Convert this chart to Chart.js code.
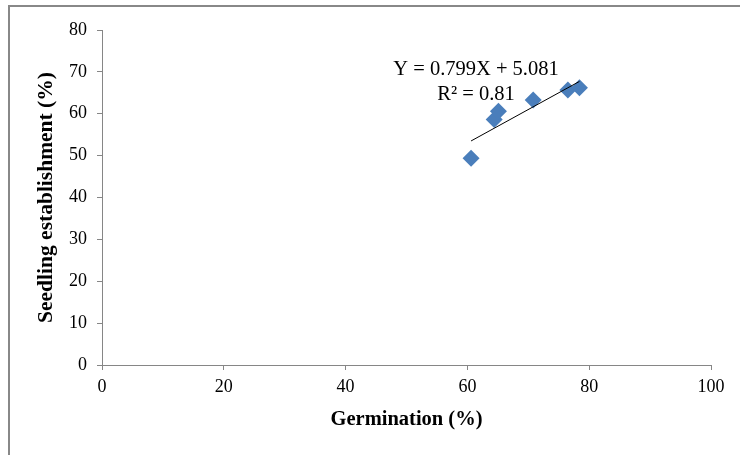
<!DOCTYPE html>
<html>
<head>
<meta charset="utf-8">
<script src="https://cdn.jsdelivr.net/npm/chart.js@4/dist/chart.umd.min.js"></script>
<style>
    body { margin: 0; background: #fff; }
    #wrap { position: relative; width: 740px; height: 455px; overflow: hidden; }
    #frame {
        position: absolute; left: 8px; top: 5px; width: 760px; height: 470px;
        border-top: 2px solid #888; border-left: 2px solid #888;
        pointer-events: none;
    }
    canvas { position: absolute; left: 0; top: 0; }
</style>
</head>
<body>
<div id="wrap">
    <canvas id="chart" width="740" height="455"></canvas>
    <div id="frame"></div>
</div>
<script>
const germination = [60.6, 64.4, 65.1, 70.8, 76.5, 78.4];
const establishment = [49.4, 58.6, 60.6, 63.3, 65.7, 66.2];
const xTicks = [0, 20, 40, 60, 80, 100];
const yTicks = [0, 10, 20, 30, 40, 50, 60, 70, 80];
const slope = 0.799;
const intercept = 5.081;
const equationText = 'Y = 0.799X + 5.081';
const r2Text = 'R² = 0.81';

const axisGrey = '#868686';
const serif = '"Liberation Serif", "Times New Roman", serif';

const points = germination.map((x, i) => ({ x: x, y: establishment[i] }));
const xMin = Math.min(...germination);
const xMax = Math.max(...germination);
const trend = [
    { x: xMin, y: slope * xMin + intercept },
    { x: xMax, y: slope * xMax + intercept }
];

// equation label, placed like the excel trendline label
const equationLabel = {
    id: 'equationLabel',
    afterDatasetsDraw(chart) {
        const ctx = chart.ctx;
        ctx.save();
        ctx.fillStyle = '#000';
        ctx.font = '20.5px ' + serif;
        ctx.textAlign = 'center';
        ctx.textBaseline = 'middle';
        ctx.fillText(equationText, 476, 70);
        ctx.fillText(r2Text, 476, 95);
        ctx.restore();
    }
};

new Chart(document.getElementById('chart'), {
    type: 'scatter',
    data: {
        datasets: [
            {
                type: 'line',
                label: 'Trend',
                data: trend,
                borderColor: '#000',
                borderWidth: 1,
                pointRadius: 0,
                fill: false
            },
            {
                label: 'Seedling establishment',
                data: points,
                pointStyle: 'rectRot',
                pointRadius: 8.5,
                pointHoverRadius: 8.5,
                backgroundColor: '#4a7ebb',
                borderColor: '#4a7ebb',
                borderWidth: 0
            }
        ]
    },
    options: {
        responsive: false,
        animation: false,
        layout: { padding: { top: 30, right: 29, left: 0, bottom: 0 } },
        plugins: {
            legend: { display: false },
            tooltip: { enabled: false }
        },
        scales: {
            x: {
                type: 'linear',
                min: 0,
                max: 100,
                afterBuildTicks: scale => { scale.ticks = xTicks.map(v => ({ value: v })); },
                afterFit: scale => { scale.height = 90; },
                border: { color: axisGrey, width: 1 },
                grid: { drawOnChartArea: false, drawTicks: true, tickLength: 5, color: axisGrey },
                ticks: { color: '#000', font: { family: serif, size: 18 }, padding: 6 },
                title: {
                    display: true,
                    text: 'Germination (%)',
                    color: '#000',
                    font: { family: serif, size: 20.5, weight: 'bold' },
                    padding: { top: 23, bottom: 23 }
                }
            },
            y: {
                type: 'linear',
                min: 0,
                max: 80,
                afterBuildTicks: scale => { scale.ticks = yTicks.map(v => ({ value: v })); },
                afterFit: scale => { scale.width = 102; },
                border: { color: axisGrey, width: 1 },
                grid: { drawOnChartArea: false, drawTicks: true, tickLength: 5, color: axisGrey },
                ticks: { color: '#000', font: { family: serif, size: 18 }, padding: 10 },
                title: {
                    display: true,
                    text: 'Seedling establishment (%)',
                    color: '#000',
                    font: { family: serif, size: 21.5, weight: 'bold' },
                    padding: { top: 34 }
                }
            }
        }
    },
    plugins: [equationLabel]
});
</script>
</body>
</html>
